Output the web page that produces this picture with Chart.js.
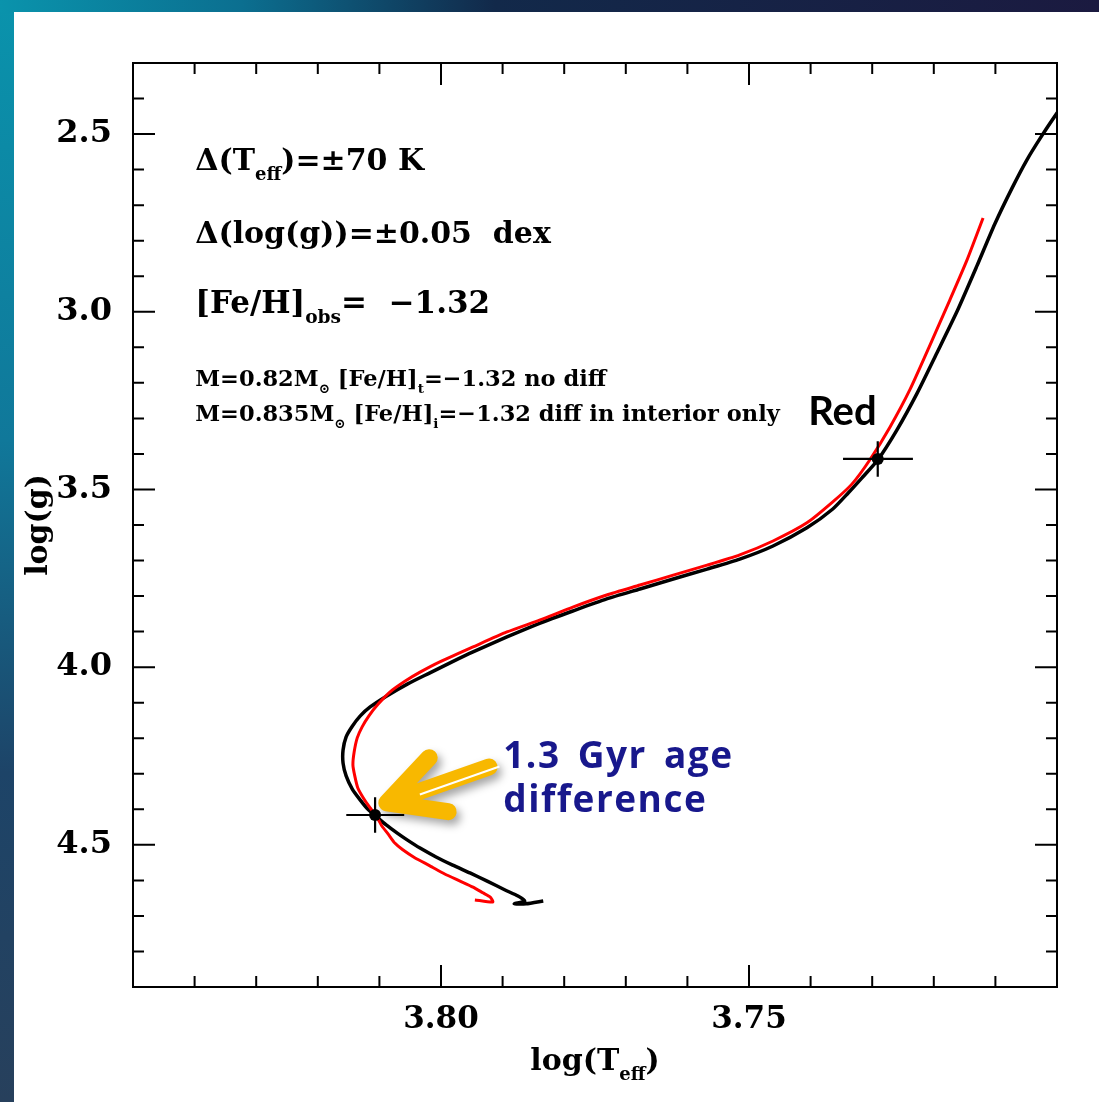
<!DOCTYPE html>
<html>
<head>
<meta charset="utf-8">
<script src="https://cdn.jsdelivr.net/npm/chart.js@4.4.1/dist/chart.umd.min.js"></script>
<style>
  html, body { margin: 0; padding: 0; background: #fff; }
  #wrap { width: 1099px; height: 1102px; }
</style>
</head>
<body>
<div id="wrap"><canvas id="c" width="1099" height="1102"></canvas></div>
<script>
// black track: M=0.82 Msun, no diffusion (log Teff, log g)
const blackTeff = [3.7834, 3.7862, 3.7881, 3.7864, 3.7875, 3.7896, 3.7925, 3.7953, 3.7981, 3.8008,
  3.8034, 3.8055, 3.8071, 3.8089, 3.8104, 3.8119, 3.8131, 3.8144, 3.8154, 3.8159,
  3.8159, 3.8154, 3.8144, 3.8131, 3.8115, 3.8088, 3.8054, 3.8018, 3.7982, 3.7948,
  3.7893, 3.7839, 3.7786, 3.7731, 3.7677, 3.7623, 3.7568, 3.7515, 3.7461, 3.7406,
  3.7364, 3.7339, 3.7317, 3.7291, 3.7260, 3.7227, 3.7195, 3.7162, 3.7130, 3.7101,
  3.7073, 3.7049, 3.7024, 3.7000, 3.6979];
const blackLogg = [4.658, 4.666, 4.666, 4.658, 4.644, 4.627, 4.602, 4.579, 4.557, 4.534,
  4.509, 4.486, 4.467, 4.444, 4.422, 4.399, 4.374, 4.343, 4.306, 4.270,
  4.233, 4.196, 4.166, 4.137, 4.112, 4.081, 4.047, 4.016, 3.985, 3.957,
  3.915, 3.876, 3.842, 3.808, 3.780, 3.752, 3.724, 3.696, 3.659, 3.608,
  3.555, 3.510, 3.468, 3.417, 3.333, 3.229, 3.116, 2.998, 2.871, 2.753,
  2.652, 2.573, 2.503, 2.441, 2.390];

// red track: M=0.835 Msun, diffusion in interior only
const redTeff = [3.7945, 3.7916, 3.7920, 3.7932, 3.7948, 3.7969, 3.7994, 3.8018, 3.8042, 3.8062,
  3.8075, 3.8086, 3.8096, 3.8104, 3.8115, 3.8125, 3.8135, 3.8140, 3.8143, 3.8141,
  3.8136, 3.8128, 3.8117, 3.8102, 3.8083, 3.8058, 3.8034, 3.8002, 3.7948, 3.7893,
  3.7839, 3.7786, 3.7731, 3.7677, 3.7623, 3.7568, 3.7515, 3.7461, 3.7406, 3.7364,
  3.7333, 3.7304, 3.7271, 3.7239, 3.7206, 3.7174, 3.7146, 3.7120];
const redLogg = [4.655, 4.661, 4.647, 4.635, 4.619, 4.602, 4.582, 4.559, 4.537, 4.514,
  4.495, 4.469, 4.447, 4.422, 4.396, 4.371, 4.340, 4.306, 4.275, 4.239,
  4.199, 4.168, 4.137, 4.104, 4.070, 4.039, 4.014, 3.985, 3.943, 3.901,
  3.867, 3.831, 3.797, 3.769, 3.741, 3.713, 3.684, 3.645, 3.594, 3.535,
  3.485, 3.417, 3.324, 3.220, 3.093, 2.967, 2.854, 2.736];

// observed stars with error bars
const starTeff = [3.8107, 3.7291];
const starLogg = [4.416, 3.414];
const teffErrK = 70;
const loggErr = 0.05;

// axes
const xMin = 3.70, xMax = 3.85, xStep = 0.01;
const yMin = 2.3, yMax = 4.9, yStep = 0.1;
const xTickLabels = [3.80, 3.75];
const yTickLabels = [2.5, 3.0, 3.5, 4.0, 4.5];

// annotation anchors (data units)
const arrowTail = [3.7922, 4.281];
const arrowTip = [3.8088, 4.382];
const noteX = 3.8399;
const noteRows = [2.601, 2.806, 3.003, 3.209, 3.307];
const redLabel = [3.7404, 3.319];
const ageText = [3.7899, 4.284, 4.407];

const SERIF = '"DejaVu Serif", serif';
const pts = (xs, ys) => xs.map((x, i) => ({ x: x, y: ys[i] }));
const isLabel = (v, list, f) => list.some(l => Math.abs(l - v) < f / 10);

function rich(ctx, x, y, parts, size, family, measureOnly) {
  let cx = x;
  for (const p of parts) {
    const s = p.sub ? size * 0.6 : size;
    ctx.font = 'bold ' + s + 'px ' + family;
    if (!measureOnly) ctx.fillText(p.t, cx, y + (p.sub ? size * 0.32 : 0));
    cx += ctx.measureText(p.t).width;
  }
  return cx - x;
}

const deco = {
  id: 'deco',
  beforeDraw(chart) {
    const c = chart.ctx, W = chart.width, H = chart.height;
    c.save();
    let g = c.createLinearGradient(0, 0, 0, H);
    g.addColorStop(0, '#0a93ac');
    g.addColorStop(0.4, '#10789a');
    g.addColorStop(0.7, '#1d4468');
    g.addColorStop(1, '#27405c');
    c.fillStyle = g;
    c.fillRect(0, 0, W, H);
    g = c.createLinearGradient(0, 0, W, 0);
    g.addColorStop(0, '#0a93ac');
    g.addColorStop(0.22, '#0b6f90');
    g.addColorStop(0.45, '#12294a');
    g.addColorStop(1, '#1b1a40');
    c.fillStyle = g;
    c.fillRect(0, 0, W, 13);
    c.fillStyle = '#ffffff';
    c.fillRect(14, 12, W - 14, H - 12);
    c.restore();
  },
  afterDatasetsDraw(chart) {
    const c = chart.ctx, xs = chart.scales.x, ys = chart.scales.y;
    c.save();
    c.strokeStyle = '#000';
    c.lineWidth = 2.2;
    starTeff.forEach((t, i) => {
      const T = Math.pow(10, t);
      const x1 = xs.getPixelForValue(Math.log10(T - teffErrK));
      const x2 = xs.getPixelForValue(Math.log10(T + teffErrK));
      const y1 = ys.getPixelForValue(starLogg[i] - loggErr);
      const y2 = ys.getPixelForValue(starLogg[i] + loggErr);
      const px = xs.getPixelForValue(t), py = ys.getPixelForValue(starLogg[i]);
      c.beginPath();
      c.moveTo(x1, py); c.lineTo(x2, py);
      c.moveTo(px, y1); c.lineTo(px, y2);
      c.stroke();
    });
    c.restore();
  },
  afterDraw(chart) {
    const c = chart.ctx, a = chart.chartArea, xs = chart.scales.x, ys = chart.scales.y;
    c.save();
    // frame
    c.strokeStyle = '#000';
    c.lineWidth = 2;
    c.strokeRect(a.left, a.top, a.right - a.left, a.bottom - a.top);
    // inward ticks on all four sides
    c.beginPath();
    xs.ticks.forEach(t => {
      const px = xs.getPixelForValue(t.value);
      const len = isLabel(t.value, xTickLabels, xStep) ? 22 : 11;
      c.moveTo(px, a.bottom); c.lineTo(px, a.bottom - len);
      c.moveTo(px, a.top); c.lineTo(px, a.top + len);
    });
    ys.ticks.forEach(t => {
      const py = ys.getPixelForValue(t.value);
      const len = isLabel(t.value, yTickLabels, yStep) ? 22 : 11;
      c.moveTo(a.left, py); c.lineTo(a.left + len, py);
      c.moveTo(a.right, py); c.lineTo(a.right - len, py);
    });
    c.stroke();

    // axis titles
    c.fillStyle = '#000';
    c.textBaseline = 'alphabetic';
    c.textAlign = 'left';
    const xt = [{ t: 'log(T' }, { t: 'eff', sub: 1 }, { t: ')' }];
    const w = rich(c, 0, 0, xt, 30, SERIF, true);
    rich(c, (a.left + a.right) / 2 - w / 2, 1070, xt, 30, SERIF);
    c.save();
    c.translate(47, 525);
    c.rotate(-Math.PI / 2);
    c.font = 'bold 30px ' + SERIF;
    c.textAlign = 'center';
    c.fillText('log(g)', 0, 0);
    c.restore();

    // notes
    const nx = xs.getPixelForValue(noteX);
    const big = 30, small = 22.5;
    rich(c, nx, ys.getPixelForValue(noteRows[0]),
      [{ t: 'Δ(T' }, { t: 'eff', sub: 1 }, { t: ')=±70 K' }], big, SERIF);
    rich(c, nx, ys.getPixelForValue(noteRows[1]),
      [{ t: 'Δ(log(g))=±0.05  dex' }], big, SERIF);
    rich(c, nx, ys.getPixelForValue(noteRows[2]),
      [{ t: '[Fe/H]' }, { t: 'obs', sub: 1 }, { t: '=  −1.32' }], 31, SERIF);
    rich(c, nx, ys.getPixelForValue(noteRows[3]),
      [{ t: 'M=0.82M' }, { t: '⊙', sub: 1 }, { t: ' [Fe/H]' }, { t: 't', sub: 1 }, { t: '=−1.32 no diff' }], small, SERIF);
    rich(c, nx, ys.getPixelForValue(noteRows[4]),
      [{ t: 'M=0.835M' }, { t: '⊙', sub: 1 }, { t: ' [Fe/H]' }, { t: 'i', sub: 1 }, { t: '=−1.32 diff in interior only' }], small, SERIF);

    c.font = 'bold 40px Lato, sans-serif';
    c.fillText('Red', xs.getPixelForValue(redLabel[0]), ys.getPixelForValue(redLabel[1]));

    // age difference text
    c.fillStyle = '#18188c';
    c.font = 'bold 37px "Open Sans", sans-serif';
    c.letterSpacing = '1.5px';
    c.wordSpacing = '6px';
    const ax = xs.getPixelForValue(ageText[0]);
    c.fillText('1.3 Gyr age', ax, ys.getPixelForValue(ageText[1]));
    c.fillText('difference', ax, ys.getPixelForValue(ageText[2]));
    c.letterSpacing = '0px';
    c.wordSpacing = '0px';

    // arrow
    const tx = xs.getPixelForValue(arrowTip[0]), ty = ys.getPixelForValue(arrowTip[1]);
    const sx = xs.getPixelForValue(arrowTail[0]), sy = ys.getPixelForValue(arrowTail[1]);
    const ang = Math.atan2(sy - ty, sx - tx);
    const wing = 62, spread = 0.48;
    c.save();
    c.shadowColor = 'rgba(0,0,0,0.35)';
    c.shadowBlur = 8;
    c.shadowOffsetX = 4;
    c.shadowOffsetY = 5;
    c.strokeStyle = '#f8b800';
    c.lineCap = 'round';
    c.lineJoin = 'round';
    c.lineWidth = 17;
    c.beginPath();
    c.moveTo(tx + wing * Math.cos(ang - spread), ty + wing * Math.sin(ang - spread));
    c.lineTo(tx, ty);
    c.lineTo(tx + wing * Math.cos(ang + spread), ty + wing * Math.sin(ang + spread));
    c.moveTo(tx + 8 * Math.cos(ang), ty + 8 * Math.sin(ang));
    c.lineTo(sx, sy);
    c.stroke();
    c.restore();
    c.strokeStyle = '#ffffff';
    c.lineWidth = 2;
    const nxv = -Math.sin(ang) * 3, nyv = Math.cos(ang) * 3;
    c.beginPath();
    c.moveTo(tx + 34 * Math.cos(ang) + nxv, ty + 34 * Math.sin(ang) + nyv);
    c.lineTo(sx + 10 * Math.cos(ang) + nxv, sy + 10 * Math.sin(ang) + nyv);
    c.stroke();
    c.restore();
  }
};

new Chart(document.getElementById('c'), {
  type: 'scatter',
  data: {
    datasets: [
      { label: 'stars', data: pts(starTeff, starLogg), pointRadius: 6, pointBackgroundColor: '#000',
        pointBorderWidth: 0, showLine: false },
      { label: 'red', data: pts(redTeff, redLogg), showLine: true, borderColor: '#ff0000',
        borderWidth: 3, pointRadius: 0, tension: 0.2 },
      { label: 'black', data: pts(blackTeff, blackLogg), showLine: true, borderColor: '#000000',
        borderWidth: 3.5, pointRadius: 0, tension: 0.2 }
    ]
  },
  options: {
    responsive: false,
    animation: false,
    devicePixelRatio: 1,
    layout: { padding: { left: 0, top: 63, right: 42, bottom: 0 } },
    plugins: { legend: { display: false }, tooltip: { enabled: false } },
    scales: {
      x: {
        type: 'linear', reverse: true, min: xMin, max: xMax,
        afterFit(s) { s.height = 115; },
        grid: { display: false }, border: { display: false },
        ticks: {
          stepSize: xStep, autoSkip: false, maxRotation: 0, padding: 6, color: '#000',
          font: { family: SERIF, size: 31, weight: 'bold' },
          callback: v => isLabel(v, xTickLabels, xStep) ? v.toFixed(2) : ''
        }
      },
      y: {
        type: 'linear', reverse: true, min: yMin, max: yMax,
        afterFit(s) { s.width = 133; },
        grid: { display: false }, border: { display: false },
        ticks: {
          stepSize: yStep, autoSkip: false, padding: 13, color: '#000',
          font: { family: SERIF, size: 32, weight: 'bold' },
          callback: v => isLabel(v, yTickLabels, yStep) ? v.toFixed(1) : ''
        }
      }
    }
  },
  plugins: [deco]
});
</script>
</body>
</html>
